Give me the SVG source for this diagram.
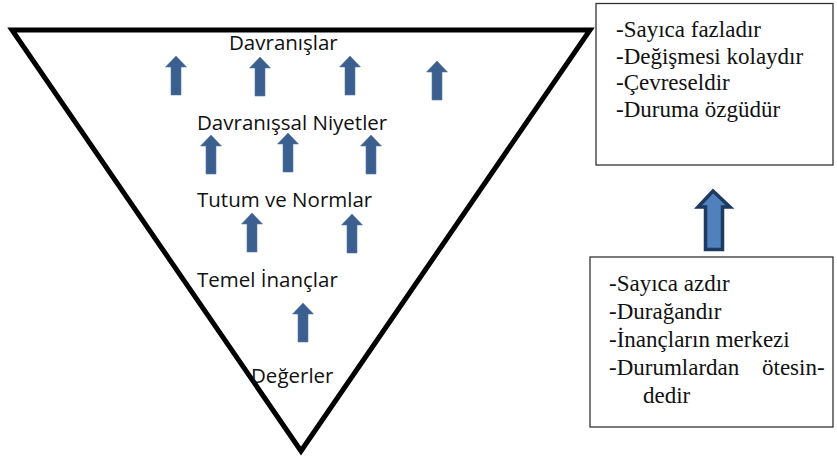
<svg xmlns="http://www.w3.org/2000/svg" width="837" height="457" viewBox="0 0 837 457">
<style>
.lbl{font-family:"Open Sans","Noto Sans",sans-serif;font-size:20.5px;fill:#111}
.box{fill:#fff;stroke:#333;stroke-width:1.3}
.bt{font-family:"Liberation Serif","Times New Roman",serif;font-size:23px;fill:#111}
.arr{fill:#3b5f8e;stroke:#5a7ba5;stroke-width:0.6}
</style>
<defs>
<path id="up" d="M0,0 L10.5,11 L5,11 L5,39 L-5,39 L-5,11 L-10.5,11 Z"/>
</defs>
<rect width="837" height="457" fill="#fff"/>
<g id="triangle">
<polygon points="12,30 590,30 301,451" fill="none" stroke="#000" stroke-width="5" stroke-linejoin="miter"/>
</g>
<g id="labels">
<text class="lbl" x="229" y="50">Davranışlar</text>
<text class="lbl" x="197" y="130">Davranışsal Niyetler</text>
<text class="lbl" x="197" y="207">Tutum ve Normlar</text>
<text class="lbl" x="197" y="287">Temel İnançlar</text>
<text class="lbl" x="251" y="383">Değerler</text>
</g>
<g id="connectors">
<use href="#up" class="arr" x="176" y="56"/>
<use href="#up" class="arr" x="260" y="57"/>
<use href="#up" class="arr" x="350" y="56"/>
<use href="#up" class="arr" x="437" y="61"/>
<use href="#up" class="arr" x="211" y="135"/>
<use href="#up" class="arr" x="288" y="133"/>
<use href="#up" class="arr" x="371" y="135"/>
<use href="#up" class="arr" x="252" y="213"/>
<use href="#up" class="arr" x="352" y="214"/>
<use href="#up" class="arr" x="303" y="303"/>
<path d="M713,191 L730,207 L722.5,207 L722.5,249.5 L705.5,249.5 L705.5,207 L698,207 Z" fill="#4f81bd" stroke="#1f3a60" stroke-width="3.5" stroke-linejoin="miter"/>
</g>
<g id="box-top">
<rect class="box" x="596" y="3.5" width="237" height="161.5"/>
<text class="bt" x="616" y="37">-Sayıca fazladır</text>
<text class="bt" x="616" y="64">-Değişmesi kolaydır</text>
<text class="bt" x="616" y="90">-Çevreseldir</text>
<text class="bt" x="616" y="117">-Duruma özgüdür</text>
</g>
<g id="box-bottom">
<rect class="box" x="590" y="257" width="243" height="170"/>
<text class="bt" x="609" y="291">-Sayıca azdır</text>
<text class="bt" x="609" y="319">-Durağandır</text>
<text class="bt" x="609" y="347">-İnançların merkezi</text>
<text class="bt" x="609" y="375">-Durumlardan <tspan x="762">ötesin-</tspan></text>
<text class="bt" x="643" y="403">dedir</text>
</g>
</svg>
